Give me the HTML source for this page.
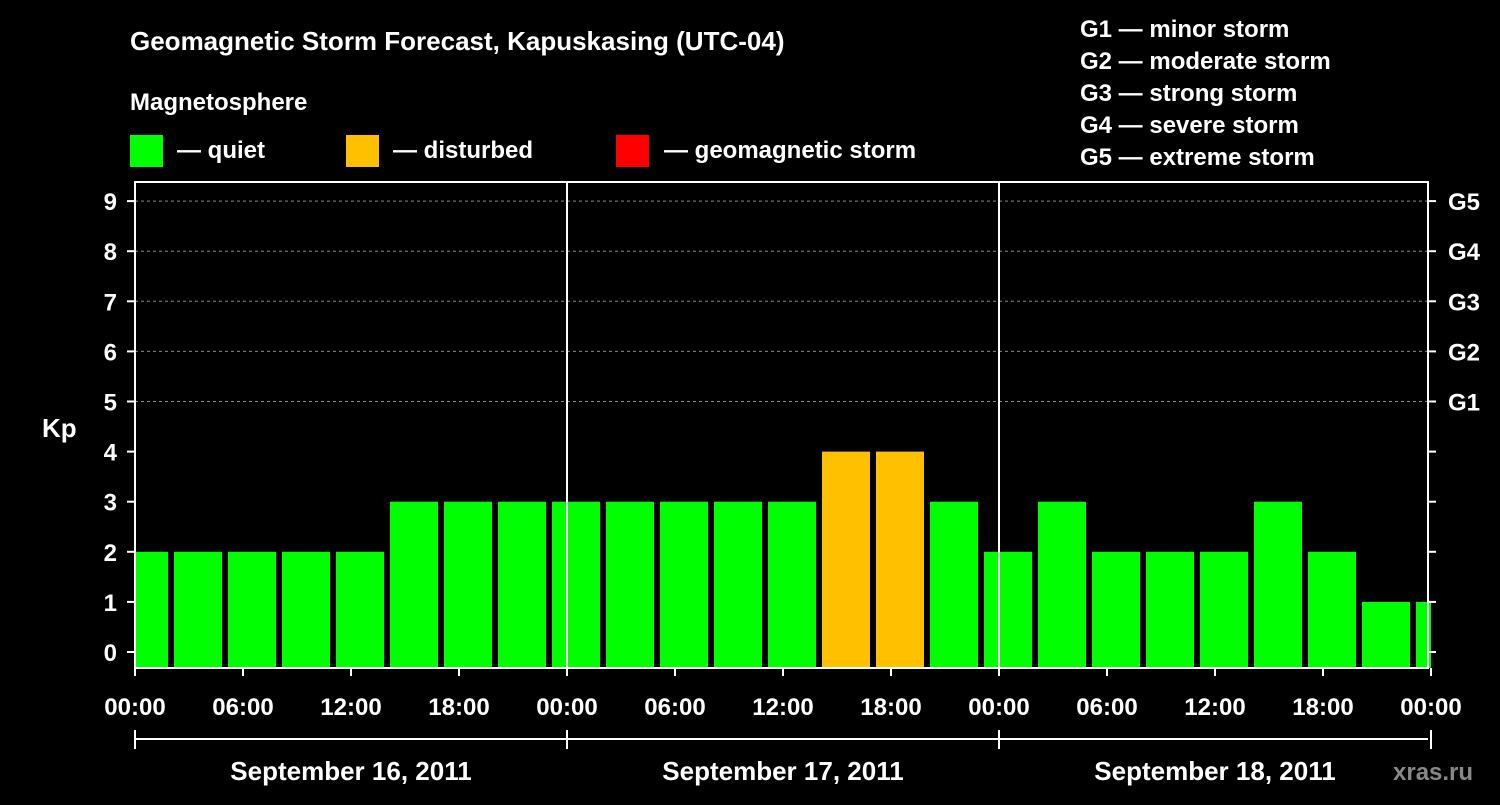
<!DOCTYPE html>
<html><head><meta charset="utf-8"><style>
body{margin:0;background:#000;width:1500px;height:800px;overflow:hidden}
svg text{font-family:"Liberation Sans",sans-serif;font-weight:bold;fill:#fff}
</style></head><body>
<svg id="c" width="1500" height="800">
<text x="130" y="50" font-size="26">Geomagnetic Storm Forecast, Kapuskasing (UTC-04)</text>
<text x="130" y="110" font-size="24">Magnetosphere</text>
<rect x="130" y="135" width="33" height="32" fill="#00ff00"/>
<text x="177" y="158" font-size="24">— quiet</text>
<rect x="346" y="135" width="33" height="32" fill="#ffc000"/>
<text x="393" y="158" font-size="24">— disturbed</text>
<rect x="616" y="135" width="33" height="32" fill="#ff0000"/>
<text x="664" y="158" font-size="24">— geomagnetic storm</text>
<g font-size="24">
<text x="1080" y="37">G1 — minor storm</text>
<text x="1080" y="69">G2 — moderate storm</text>
<text x="1080" y="101">G3 — strong storm</text>
<text x="1080" y="133">G4 — severe storm</text>
<text x="1080" y="165">G5 — extreme storm</text>
</g>
<text x="42" y="437" font-size="26">Kp</text>
<text x="1393" y="780" font-size="24" fill="#888" style="fill:#888">xras.ru</text>
<g id="plot"></g>
</svg>
<script>
const startValue = 2;
const values = [2,2,2,2,2,3,3,3,3,3,3,3,3,4,4,3,2,3,2,2,2,3,2,1,1];
const yTicks = [0,1,2,3,4,5,6,7,8,9];
const gLabels = ["G1","G2","G3","G4","G5"];
const xLabels = ["00:00","06:00","12:00","18:00","00:00","06:00","12:00","18:00","00:00","06:00","12:00","18:00","00:00"];
const dates = ["September 16, 2011","September 17, 2011","September 18, 2011"];
const NS="http://www.w3.org/2000/svg";
const X0=135,X1=1428,PH=18,YB=668,YT=182;
const x=h=>X0+h*PH;
const y=v=>652-v*50.1;
const g=document.getElementById('plot');
function el(t,a,p){const e=document.createElementNS(NS,t);for(const k in a)e.setAttribute(k,a[k]);(p||g).appendChild(e);return e;}
function col(v){return v>=5?'#ff0000':v>=4?'#ffc000':'#00ff00';}
// grid
for(let v=5;v<=9;v++){const l=el('line',{x1:X0,x2:X1,y1:y(v),y2:y(v),stroke:'#888','stroke-dasharray':'3,3'});

}
// bars: bins start at -1h local
values.forEach((v,i)=>{const s=Math.max(-1+3*i,0),e=Math.min(2+3*i,72);
let l=x(s)+(s>0?3:0),r=x(e)-(e<72?3:0);
const b=el('rect',{x:l,y:y(v),width:r-l,height:YB-y(v),fill:col(v)});

});
// day lines
[24,48].forEach(h=>{const l=el('line',{x1:x(h),x2:x(h),y1:YT,y2:YB,stroke:'#fff','stroke-width':2});

});
const fr=el('rect',{x:X0,y:YT,width:X1-X0,height:YB-YT,fill:'none',stroke:'#fff','stroke-width':2});


yTicks.forEach(v=>{el('line',{x1:127,x2:X0,y1:y(v),y2:y(v),stroke:'#fff','stroke-width':2});
el('line',{x1:X1,x2:X1+8,y1:y(v),y2:y(v),stroke:'#fff','stroke-width':2});
const t=el('text',{x:117,y:y(v)+9,'font-size':24,'text-anchor':'end'});t.textContent=v;

});
gLabels.forEach((s,i)=>{const t=el('text',{x:1448,y:y(5+i)+9,'font-size':24});t.textContent=s;

});
xLabels.forEach((s,i)=>{const h=i*6;el('line',{x1:x(h),x2:x(h),y1:YB,y2:YB+8,stroke:'#fff','stroke-width':2});
const t=el('text',{x:x(h),y:715,'font-size':24,'text-anchor':'middle'});t.textContent=s;

});
el('line',{x1:X0,x2:X1,y1:739,y2:739,stroke:'#fff','stroke-width':2});
[0,24,48,72].forEach(h=>el('line',{x1:x(h),x2:x(h),y1:730,y2:749,stroke:'#fff','stroke-width':2}));
dates.forEach((d,i)=>{const t=el('text',{x:x(i*24+12),y:780,'font-size':26,'text-anchor':'middle'});t.textContent=d;

});
</script>
</body></html>
